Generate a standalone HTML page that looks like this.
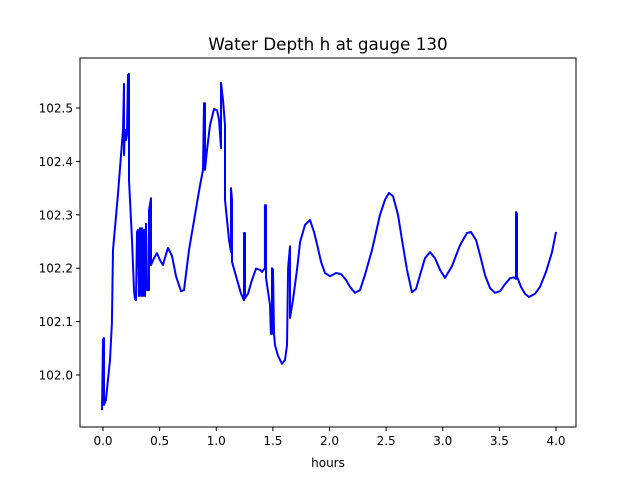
<!DOCTYPE html>
<html><head><meta charset="utf-8"><style>
body{margin:0;background:#fff}
svg{display:block;font-family:"DejaVu Sans","Liberation Sans",sans-serif}
</style></head><body>
<svg id="chart" width="640" height="480"></svg>
<script>
const hours=[-0.009,0,0.009,0.009,0.026,0.062,0.079,0.088,0.132,0.177,0.185,0.185,0.194,0.203,0.212,0.221,0.230,0.230,0.256,0.274,0.283,0.291,0.300,0.309,0.318,0.327,0.336,0.344,0.353,0.362,0.371,0.380,0.389,0.406,0.406,0.424,0.424,0.450,0.477,0.503,0.530,0.547,0.574,0.609,0.645,0.689,0.715,0.759,0.857,0.883,0.892,0.901,0.901,0.918,0.945,0.980,1.007,1.024,1.042,1.042,1.060,1.077,1.077,1.113,1.130,1.130,1.139,1.139,1.192,1.219,1.245,1.245,1.254,1.254,1.280,1.316,1.351,1.386,1.404,1.430,1.430,1.439,1.439,1.475,1.483,1.492,1.492,1.501,1.510,1.519,1.545,1.581,1.607,1.625,1.634,1.651,1.651,1.678,1.713,1.740,1.784,1.828,1.863,1.898,1.925,1.960,2.004,2.057,2.102,2.146,2.181,2.225,2.269,2.313,2.375,2.446,2.490,2.525,2.561,2.605,2.640,2.684,2.728,2.764,2.799,2.843,2.887,2.932,2.976,3.020,3.082,3.152,3.214,3.249,3.294,3.329,3.373,3.417,3.461,3.506,3.550,3.594,3.629,3.647,3.647,3.656,3.656,3.691,3.726,3.762,3.815,3.859,3.912,3.965,4.0];
const depth=[101.934,102.066,102.069,101.944,101.953,102.028,102.097,102.234,102.337,102.459,102.545,102.412,102.459,102.440,102.451,102.562,102.564,102.365,102.253,102.159,102.142,102.140,102.268,102.272,102.148,102.275,102.148,102.275,102.148,102.272,102.148,102.283,102.159,102.159,102.309,102.331,102.206,102.219,102.228,102.215,102.206,102.219,102.238,102.223,102.185,102.157,102.159,102.234,102.356,102.384,102.509,102.509,102.384,102.421,102.468,102.498,102.496,102.478,102.425,102.547,102.515,102.468,102.328,102.253,102.230,102.350,102.328,102.212,102.172,102.152,102.140,102.266,102.266,102.144,102.152,102.178,102.199,102.197,102.193,102.200,102.318,102.318,102.182,102.131,102.077,102.077,102.200,102.197,102.077,102.056,102.036,102.021,102.028,102.056,102.200,102.241,102.107,102.141,102.197,102.249,102.281,102.290,102.268,102.238,102.212,102.191,102.185,102.191,102.189,102.178,102.165,102.154,102.159,102.187,102.234,102.300,102.328,102.341,102.335,102.300,102.253,102.197,102.155,102.161,102.187,102.219,102.230,102.219,102.197,102.182,102.204,102.243,102.266,102.268,102.253,102.225,102.187,102.163,102.154,102.157,102.170,102.181,102.183,102.180,102.305,102.302,102.184,102.165,102.152,102.146,102.152,102.165,102.193,102.230,102.268];
const xTicks=[0,0.5,1,1.5,2,2.5,3,3.5,4];
const xTickLabels=["0.0","0.5","1.0","1.5","2.0","2.5","3.0","3.5","4.0"];
const yTicks=[102.0,102.1,102.2,102.3,102.4,102.5];
const yTickLabels=["102.0","102.1","102.2","102.3","102.4","102.5"];

const L=80,R=576,T=58,B=427;
const xs=h=>103+h*113.25;
const ys=d=>375-(d-102)*534;
const svg=document.getElementById('chart');
const NS='http://www.w3.org/2000/svg';
function mk(tag,attrs){const e=document.createElementNS(NS,tag);for(const k in attrs)e.setAttribute(k,attrs[k]);svg.appendChild(e);return e;}

const title=mk('text',{x:328,y:50,'text-anchor':'middle','font-size':16.8,fill:'#000'});
title.textContent='Water Depth h at gauge 130';



const clip=mk('clipPath',{id:'c'});
const cr=document.createElementNS(NS,'rect');cr.setAttribute('x',L);cr.setAttribute('y',T);cr.setAttribute('width',R-L);cr.setAttribute('height',B-T);clip.appendChild(cr);

let d='';
for(let i=0;i<hours.length;i++){d+=(i?'L':'M')+xs(hours[i]).toFixed(1)+','+ys(depth[i]).toFixed(1);}
const line=mk('path',{d:d,fill:'none',stroke:'#0000ff','stroke-width':2,'stroke-linejoin':'round','clip-path':'url(#c)'});



const frame=mk('rect',{x:L,y:T,width:R-L,height:B-T,fill:'none',stroke:'#000','stroke-width':1});



xTicks.forEach((v,i)=>{
  const x=xs(v);
  const t=mk('line',{x1:x,x2:x,y1:B,y2:B+4,stroke:'#000'});
  
  
  const l=mk('text',{x:x,y:B+18,'text-anchor':'middle','font-size':12});
  l.textContent=xTickLabels[i];
  
  
});
yTicks.forEach((v,i)=>{
  const y=ys(v);
  const t=mk('line',{x1:L-4,x2:L,y1:y,y2:y,stroke:'#000'});
  
  
  const l=mk('text',{x:L-7,y:y+4.5,'text-anchor':'end','font-size':12});
  l.textContent=yTickLabels[i];
  
  
});
const xl=mk('text',{x:328,y:467,'text-anchor':'middle','font-size':12});
xl.textContent='hours';


</script>
</body></html>
